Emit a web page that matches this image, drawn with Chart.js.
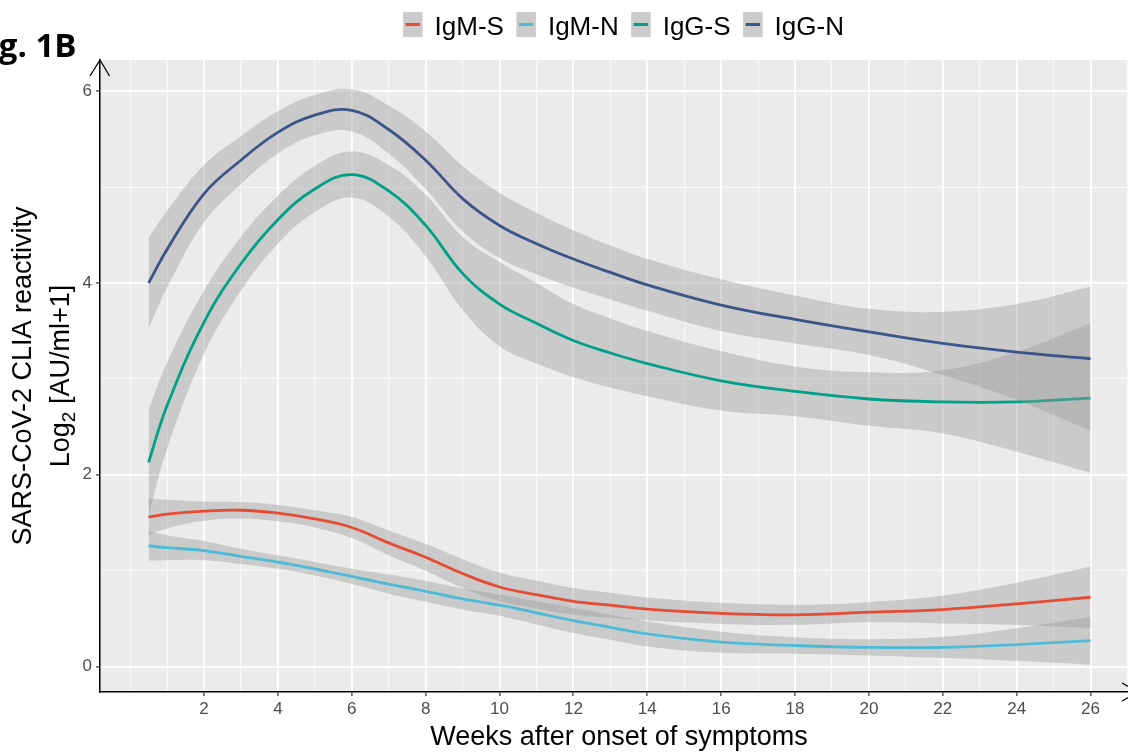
<!DOCTYPE html>
<html>
<head>
<meta charset="utf-8">
<script src="https://cdn.jsdelivr.net/npm/chart.js@4.4.1/dist/chart.umd.min.js"></script>
<style>
  html, body { margin: 0; padding: 0; background: #ffffff; overflow: hidden; }
  #wrap { position: relative; width: 1140px; height: 752px; }
</style>
</head>
<body>
<div id="wrap"><canvas id="c"></canvas></div>
<script>
// ---------------- data ----------------
const weeks = [0.5, 1, 2, 3, 4, 5, 6, 7, 8, 9, 10, 11, 12, 13, 14, 16, 18, 20, 22, 24, 26];

const seriesNames = ['IgM-S', 'IgM-N', 'IgG-S', 'IgG-N'];
const seriesColors = ['#E64B35', '#4DBBD5', '#00A087', '#3C5488'];

const igmS   = [1.56, 1.59, 1.62, 1.63, 1.60, 1.54, 1.45, 1.29, 1.14, 0.97, 0.83, 0.75, 0.68, 0.64, 0.60, 0.555, 0.54, 0.567, 0.595, 0.654, 0.723];
const igmSHi = [1.75, 1.74, 1.72, 1.715, 1.685, 1.63, 1.56, 1.42, 1.28, 1.12, 0.98, 0.895, 0.82, 0.77, 0.72, 0.665, 0.645, 0.672, 0.74, 0.874, 1.043];
const igmSLo = [1.37, 1.44, 1.52, 1.545, 1.515, 1.45, 1.34, 1.16, 1.00, 0.82, 0.68, 0.605, 0.54, 0.51, 0.48, 0.445, 0.435, 0.462, 0.45, 0.434, 0.403];

const igmN   = [1.26, 1.24, 1.21, 1.15, 1.09, 1.02, 0.94, 0.86, 0.785, 0.705, 0.64, 0.56, 0.48, 0.41, 0.34, 0.254, 0.22, 0.20, 0.20, 0.23, 0.27];
const igmNHi = [1.415, 1.37, 1.31, 1.23, 1.16, 1.09, 1.02, 0.96, 0.895, 0.815, 0.75, 0.68, 0.61, 0.54, 0.47, 0.364, 0.305, 0.285, 0.31, 0.40, 0.52];
const igmNLo = [1.105, 1.11, 1.11, 1.07, 1.02, 0.95, 0.86, 0.76, 0.675, 0.595, 0.53, 0.44, 0.35, 0.28, 0.21, 0.144, 0.135, 0.115, 0.09, 0.06, 0.02];

const iggS   = [2.13, 2.72, 3.59, 4.20, 4.66, 4.98, 5.13, 4.96, 4.60, 4.10, 3.78, 3.58, 3.40, 3.27, 3.16, 2.98, 2.87, 2.79, 2.76, 2.76, 2.80];
const iggSHi = [2.68, 3.17, 3.92, 4.48, 4.91, 5.22, 5.37, 5.23, 4.92, 4.48, 4.22, 4.00, 3.78, 3.63, 3.50, 3.29, 3.13, 3.07, 3.09, 3.28, 3.58];
const iggSLo = [1.58, 2.27, 3.26, 3.92, 4.41, 4.74, 4.89, 4.69, 4.28, 3.72, 3.34, 3.16, 3.02, 2.91, 2.82, 2.67, 2.61, 2.51, 2.43, 2.24, 2.02];

const iggN   = [4.00, 4.35, 4.93, 5.28, 5.57, 5.75, 5.80, 5.60, 5.28, 4.88, 4.60, 4.41, 4.25, 4.11, 3.98, 3.77, 3.62, 3.49, 3.37, 3.28, 3.21];
const iggNHi = [4.47, 4.75, 5.23, 5.53, 5.79, 5.96, 6.02, 5.85, 5.58, 5.22, 4.94, 4.73, 4.55, 4.39, 4.25, 4.04, 3.87, 3.73, 3.70, 3.78, 3.96];
const iggNLo = [3.53, 3.95, 4.63, 5.03, 5.35, 5.54, 5.58, 5.35, 4.98, 4.54, 4.26, 4.09, 3.95, 3.83, 3.71, 3.50, 3.37, 3.25, 3.04, 2.78, 2.46];

const xMajorTicks = [2, 4, 6, 8, 10, 12, 14, 16, 18, 20, 22, 24, 26];
const xGridTicks  = [0, 1, 2, 3, 4, 5, 6, 7, 8, 9, 10, 11, 12, 13, 14, 15, 16, 17, 18, 19, 20, 21, 22, 23, 24, 25, 26, 27];
const yMajorTicks = [0, 2, 4, 6];
const yGridTicks  = [0, 1, 2, 3, 4, 5, 6];

const xTitle = 'Weeks after onset of symptoms';
const yTitle1 = 'SARS-CoV-2 CLIA reactivity';
const yTitle2a = 'Log', yTitle2sub = '2', yTitle2b = ' [AU/ml+1]';
const figLabel = 'Fig. 1B';

// ---------------- build datasets ----------------
const lines = [igmS, igmN, iggS, iggN];
const his = [igmSHi, igmNHi, iggSHi, iggNHi];
const los = [igmSLo, igmNLo, iggSLo, iggNLo];
const toXY = arr => weeks.map((w, i) => ({ x: w, y: arr[i] }));
const BAND = 'rgba(153,153,153,0.4)';
const TENSION = 0.4;

const datasets = [];
for (let k = 0; k < 4; k++) {
  const base = (3 - k) * 3;
  datasets.push({ data: toXY(his[k]), fill: '+1', backgroundColor: BAND,
    borderWidth: 0, borderColor: 'rgba(0,0,0,0)', pointRadius: 0, tension: TENSION, order: base + 2 });
  datasets.push({ data: toXY(los[k]), fill: false,
    borderWidth: 0, borderColor: 'rgba(0,0,0,0)', pointRadius: 0, tension: TENSION, order: base + 1 });
  datasets.push({ label: seriesNames[k], data: toXY(lines[k]), fill: false,
    borderColor: seriesColors[k], borderWidth: 2.8, pointRadius: 0, tension: TENSION, order: base });
}

// ---------------- plugins ----------------
const bgPlugin = {
  id: 'bg',
  beforeDraw(chart) {
    const { ctx, chartArea: a } = chart;
    ctx.save();
    ctx.fillStyle = '#ffffff';
    ctx.fillRect(0, 0, chart.width, chart.height);
    ctx.fillStyle = '#EBEBEB';
    ctx.fillRect(a.left, a.top, a.right - a.left, a.bottom - a.top);
    ctx.restore();
  }
};

const decoPlugin = {
  id: 'deco',
  afterDraw(chart) {
    const { ctx, chartArea: a } = chart;
    ctx.save();
    // arrows
    ctx.strokeStyle = '#000';
    ctx.lineWidth = 1.3;
    ctx.beginPath();
    ctx.moveTo(a.left - 10, a.top + 16); ctx.lineTo(a.left, a.top); ctx.lineTo(a.left + 9.5, a.top + 16);
    ctx.stroke();
    ctx.beginPath();
    ctx.moveTo(a.right - 16, a.bottom - 9); ctx.lineTo(a.right, a.bottom); ctx.lineTo(a.right - 16, a.bottom + 9);
    ctx.stroke();

    // legend
    ctx.font = '26px "Liberation Sans", Arial, sans-serif';
    ctx.textBaseline = 'alphabetic';
    ctx.textAlign = 'left';
    const boxW = 19.5, boxH = 25, gapBT = 12, gapItems = 12.5;
    const widths = seriesNames.map(n => boxW + gapBT + ctx.measureText(n).width);
    const total = widths.reduce((s, w) => s + w, 0) + gapItems * (widths.length - 1);
    let x = 623.5 - total / 2;
    seriesNames.forEach((n, i) => {
      ctx.fillStyle = '#CBCBCB';
      ctx.fillRect(x, 12, boxW, boxH);
      ctx.strokeStyle = seriesColors[i];
      ctx.lineWidth = 3;
      ctx.beginPath();
      ctx.moveTo(x + 2.5, 24.5); ctx.lineTo(x + boxW - 2.5, 24.5);
      ctx.stroke();
      ctx.fillStyle = '#000';
      ctx.fillText(n, x + boxW + gapBT, 35);
      x += widths[i] + gapItems;
    });

    // fig label
    ctx.font = 'bold 33px "Open Sans", "Liberation Sans", sans-serif';
    ctx.textAlign = 'right';
    ctx.fillStyle = '#000';
    ctx.fillText(figLabel, 76.5, 57);

    // x title
    ctx.font = '27px "Liberation Sans", Arial, sans-serif';
    ctx.textAlign = 'center';
    ctx.fillText(xTitle, 619, 745);

    // y title
    const cy = (a.top + a.bottom) / 2;
    ctx.save();
    ctx.translate(31, cy);
    ctx.rotate(-Math.PI / 2);
    ctx.textAlign = 'center';
    ctx.fillText(yTitle1, 0, 0);
    ctx.restore();

    ctx.save();
    ctx.translate(69, cy);
    ctx.rotate(-Math.PI / 2);
    ctx.textAlign = 'left';
    const big = '27px "Liberation Sans", Arial, sans-serif';
    const small = '19px "Liberation Sans", Arial, sans-serif';
    ctx.font = big; const wa = ctx.measureText(yTitle2a).width;
    ctx.font = small; const ws = ctx.measureText(yTitle2sub).width;
    ctx.font = big; const wb = ctx.measureText(yTitle2b).width;
    let sx = -(wa + ws + wb) / 2;
    ctx.font = big; ctx.fillText(yTitle2a, sx, 0); sx += wa;
    ctx.font = small; ctx.fillText(yTitle2sub, sx, 6); sx += ws;
    ctx.font = big; ctx.fillText(yTitle2b, sx, 0);
    ctx.restore();

    ctx.restore();
  }
};

// ---------------- chart ----------------
const tickFont = { family: '"Liberation Sans", Arial, sans-serif', size: 17 };

new Chart(document.getElementById('c'), {
  type: 'line',
  data: { datasets },
  options: {
    responsive: true,
    maintainAspectRatio: false,
    animation: false,
    events: [],
    layout: { padding: { left: 0, right: 2, top: 60, bottom: 0 } },
    plugins: {
      legend: { display: false },
      tooltip: { enabled: false },
      filler: { propagate: false }
    },
    scales: {
      x: {
        type: 'linear',
        min: -0.815,
        max: 27.285,
        afterBuildTicks(scale) { scale.ticks = xGridTicks.map(v => ({ value: v })); },
        afterFit(scale) { scale.height = 60; scale.paddingLeft = 0; scale.paddingRight = 0; },
        ticks: {
          autoSkip: false,
          maxRotation: 0,
          padding: 3,
          color: '#4D4D4D',
          font: tickFont,
          callback: v => xMajorTicks.includes(v) ? String(v) : ''
        },
        grid: {
          color: c => xMajorTicks.includes(c.tick.value) ? '#FFFFFF' : 'rgba(255,255,255,0.75)',
          lineWidth: c => xMajorTicks.includes(c.tick.value) ? 1.8 : 0.9,
          drawTicks: true,
          tickLength: 4,
          tickColor: c => xMajorTicks.includes(c.tick.value) ? '#333333' : 'rgba(0,0,0,0)',
          tickWidth: 1.2
        },
        border: { display: true, color: '#000000', width: 1.5 }
      },
      y: {
        type: 'linear',
        min: -0.265,
        max: 6.325,
        afterBuildTicks(scale) { scale.ticks = yGridTicks.map(v => ({ value: v })); },
        afterFit(scale) { scale.width = 100; },
        ticks: {
          autoSkip: false,
          padding: 4,
          color: '#4D4D4D',
          font: tickFont,
          callback: v => yMajorTicks.includes(v) ? String(v) : ''
        },
        grid: {
          color: c => yMajorTicks.includes(c.tick.value) ? '#FFFFFF' : 'rgba(255,255,255,0.75)',
          lineWidth: c => yMajorTicks.includes(c.tick.value) ? 1.8 : 0.9,
          drawTicks: true,
          tickLength: 4,
          tickColor: c => yMajorTicks.includes(c.tick.value) ? '#333333' : 'rgba(0,0,0,0)',
          tickWidth: 1.2
        },
        border: { display: true, color: '#000000', width: 1.5 }
      }
    }
  },
  plugins: [bgPlugin, decoPlugin]
});
</script>
</body>
</html>
